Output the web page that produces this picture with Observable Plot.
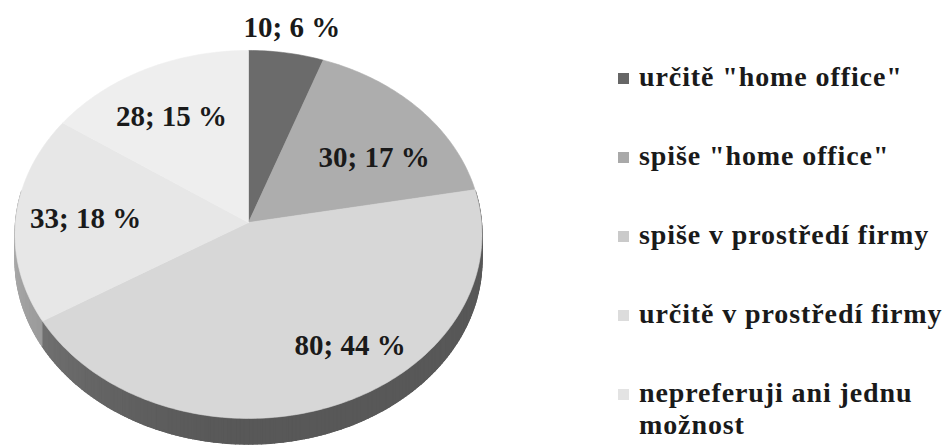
<!DOCTYPE html>
<html>
<head>
<meta charset="utf-8">
<script src="https://cdn.jsdelivr.net/npm/d3@7"></script>
<script src="https://cdn.jsdelivr.net/npm/@observablehq/plot@0.6"></script>
<style>
  html, body { margin: 0; padding: 0; background: #ffffff; }
  #wrap { position: relative; width: 948px; height: 447px; overflow: hidden; background: #ffffff; }
  #chart { position: absolute; left: 0; top: 0; }
  #legend { position: absolute; left: 618px; top: 61px; width: 325px;
    font-family: "Liberation Serif", "Times New Roman", serif; font-weight: bold; font-size: 28px;
    line-height: 32px; color: #1a1a1a; letter-spacing: 0.9px; }
  .item { display: flex; align-items: flex-start; margin-bottom: 47px; }
  .sw { width: 11px; height: 11px; flex: 0 0 11px; margin-top: 12px; margin-right: 10px; }
  .lbl { max-width: 305px; }
</style>
</head>
<body>
<div id="wrap">
  <div id="chart"></div>
  <div id="legend"></div>
</div>
<script>
// ---- data ----
const categories = ['určitě "home office"', 'spiše "home office"', 'spiše v prostředí firmy', 'určitě v prostředí firmy', 'nepreferuji ani jednu možnost'];
const counts = [10, 30, 80, 33, 28];
const percents = [6, 17, 44, 18, 15];
const topColors = ["#6b6b6b", "#adadad", "#d7d7d7", "#e7e7e7", "#eeeeee"];
const legendColors = ["#666666", "#a9a9a9", "#cacaca", "#dcdcdc", "#e3e3e3"];
const sideColors = ["#4a4a4a", "#6e6e6e", "#585858", "#8a8a8a", "#9a9a9a"];
const labelRadius = [1.16, 0.66, 0.77, 0.70, 0.69];
const labelAngleShift = [0, 7, -12, 0, -2];

// ---- geometry (tilted disc with slight perspective) ----
const k = 0.065;          // perspective strength
const depth = 0.14;       // side thickness in y-domain units
const rad = Math.PI / 180;
function proj(theta, r) {
  const u = r * Math.sin(theta), v = -r * Math.cos(theta);
  const w = 1 - k * v;
  return [u / w, v / w];
}

const slices = categories.map((name, i) => ({name, count: counts[i], pct: percents[i], i}));
const arcs = d3.pie().sort(null).value(d => d.count)(slices);

// top faces
const topPts = [];
arcs.forEach(a => {
  const i = a.data.i;
  const n = Math.max(2, Math.ceil((a.endAngle - a.startAngle) / rad));
  topPts.push({key: "t" + i, color: topColors[i], x: 0, y: 0});
  for (let j = 0; j <= n; j++) {
    const t = a.startAngle + (a.endAngle - a.startAngle) * j / n;
    const [x, y] = proj(t, 1);
    topPts.push({key: "t" + i, color: topColors[i], x, y});
  }
  topPts.push({key: "t" + i, color: topColors[i], x: 0, y: 0});
});

// side: continuous base band, then shaded segments
function sliceAt(t) {
  for (const a of arcs) if (t >= a.startAngle && t < a.endAngle) return a.data.i;
  return arcs.length - 1;
}
const basePts = [];
{
  const upper = [], lower = [];
  for (let deg = 80; deg <= 280; deg++) {
    const [x, y] = proj(deg * rad, 1);
    upper.push({key: "base", color: sideColors[2], x, y});
    lower.push({key: "base", color: sideColors[2], x, y: y + depth});
  }
  basePts.push(...upper, ...lower.reverse());
}
const sidePts = [];
for (let deg = 80; deg < 280; deg++) {
  const t1 = deg * rad, t2 = (deg + 1) * rad, tm = (deg + 0.5) * rad;
  const i = sliceAt(tm);
  const f = 0.33 * Math.pow(Math.max(0, (deg - 180) / 100), 1.5);
  const color = d3.interpolateRgb(sideColors[i], "#ffffff")(f);
  const [x1, y1] = proj(t1, 1), [x2, y2] = proj(t2, 1);
  const key = "s" + deg;
  sidePts.push({key, color, x: x1, y: y1}, {key, color, x: x2, y: y2},
               {key, color, x: x2, y: y2 + depth}, {key, color, x: x1, y: y1 + depth});
}

// labels
const labels = arcs.map(a => {
  const i = a.data.i;
  const mid = (a.startAngle + a.endAngle) / 2 + labelAngleShift[i] * rad;
  const [x, y] = proj(mid, labelRadius[i]);
  return {x, y, text: `${a.data.count}; ${a.data.pct} %`};
});

const chart = Plot.plot({
  width: 560,
  height: 447,
  margin: 0,
  style: {background: "transparent", overflow: "visible"},
  x: {domain: [-1, 1], range: [15, 481], axis: null},
  y: {domain: [-1, 1], range: [222 - 183.2, 222 + 183.2], axis: null},
  color: {type: "identity"},
  marks: [
    Plot.line(basePts, {x: "x", y: "y", z: "key", fill: "color", stroke: "color", strokeWidth: 0.5, curve: "linear-closed"}),
    Plot.line(sidePts, {x: "x", y: "y", z: "key", fill: "color", stroke: "color", strokeWidth: 1.2, curve: "linear-closed"}),
    Plot.line(topPts, {x: "x", y: "y", z: "key", fill: "color", stroke: "color", strokeWidth: 0.6, curve: "linear-closed"}),
    Plot.text(labels, {x: "x", y: "y", text: "text", fontSize: 29, fontWeight: "bold",
      fontFamily: "Liberation Serif, Times New Roman, serif", fill: "#1a1a1a", textAnchor: "middle", lineAnchor: "middle"})
  ]
});
document.getElementById("chart").appendChild(chart);

// legend
const legend = document.getElementById("legend");
categories.forEach((c, i) => {
  const item = document.createElement("div");
  item.className = "item";
  const sw = document.createElement("span");
  sw.className = "sw";
  sw.style.background = legendColors[i];
  const lb = document.createElement("span");
  lb.className = "lbl";
  lb.textContent = c;
  item.appendChild(sw);
  item.appendChild(lb);
  legend.appendChild(item);
});
</script>
</body>
</html>
